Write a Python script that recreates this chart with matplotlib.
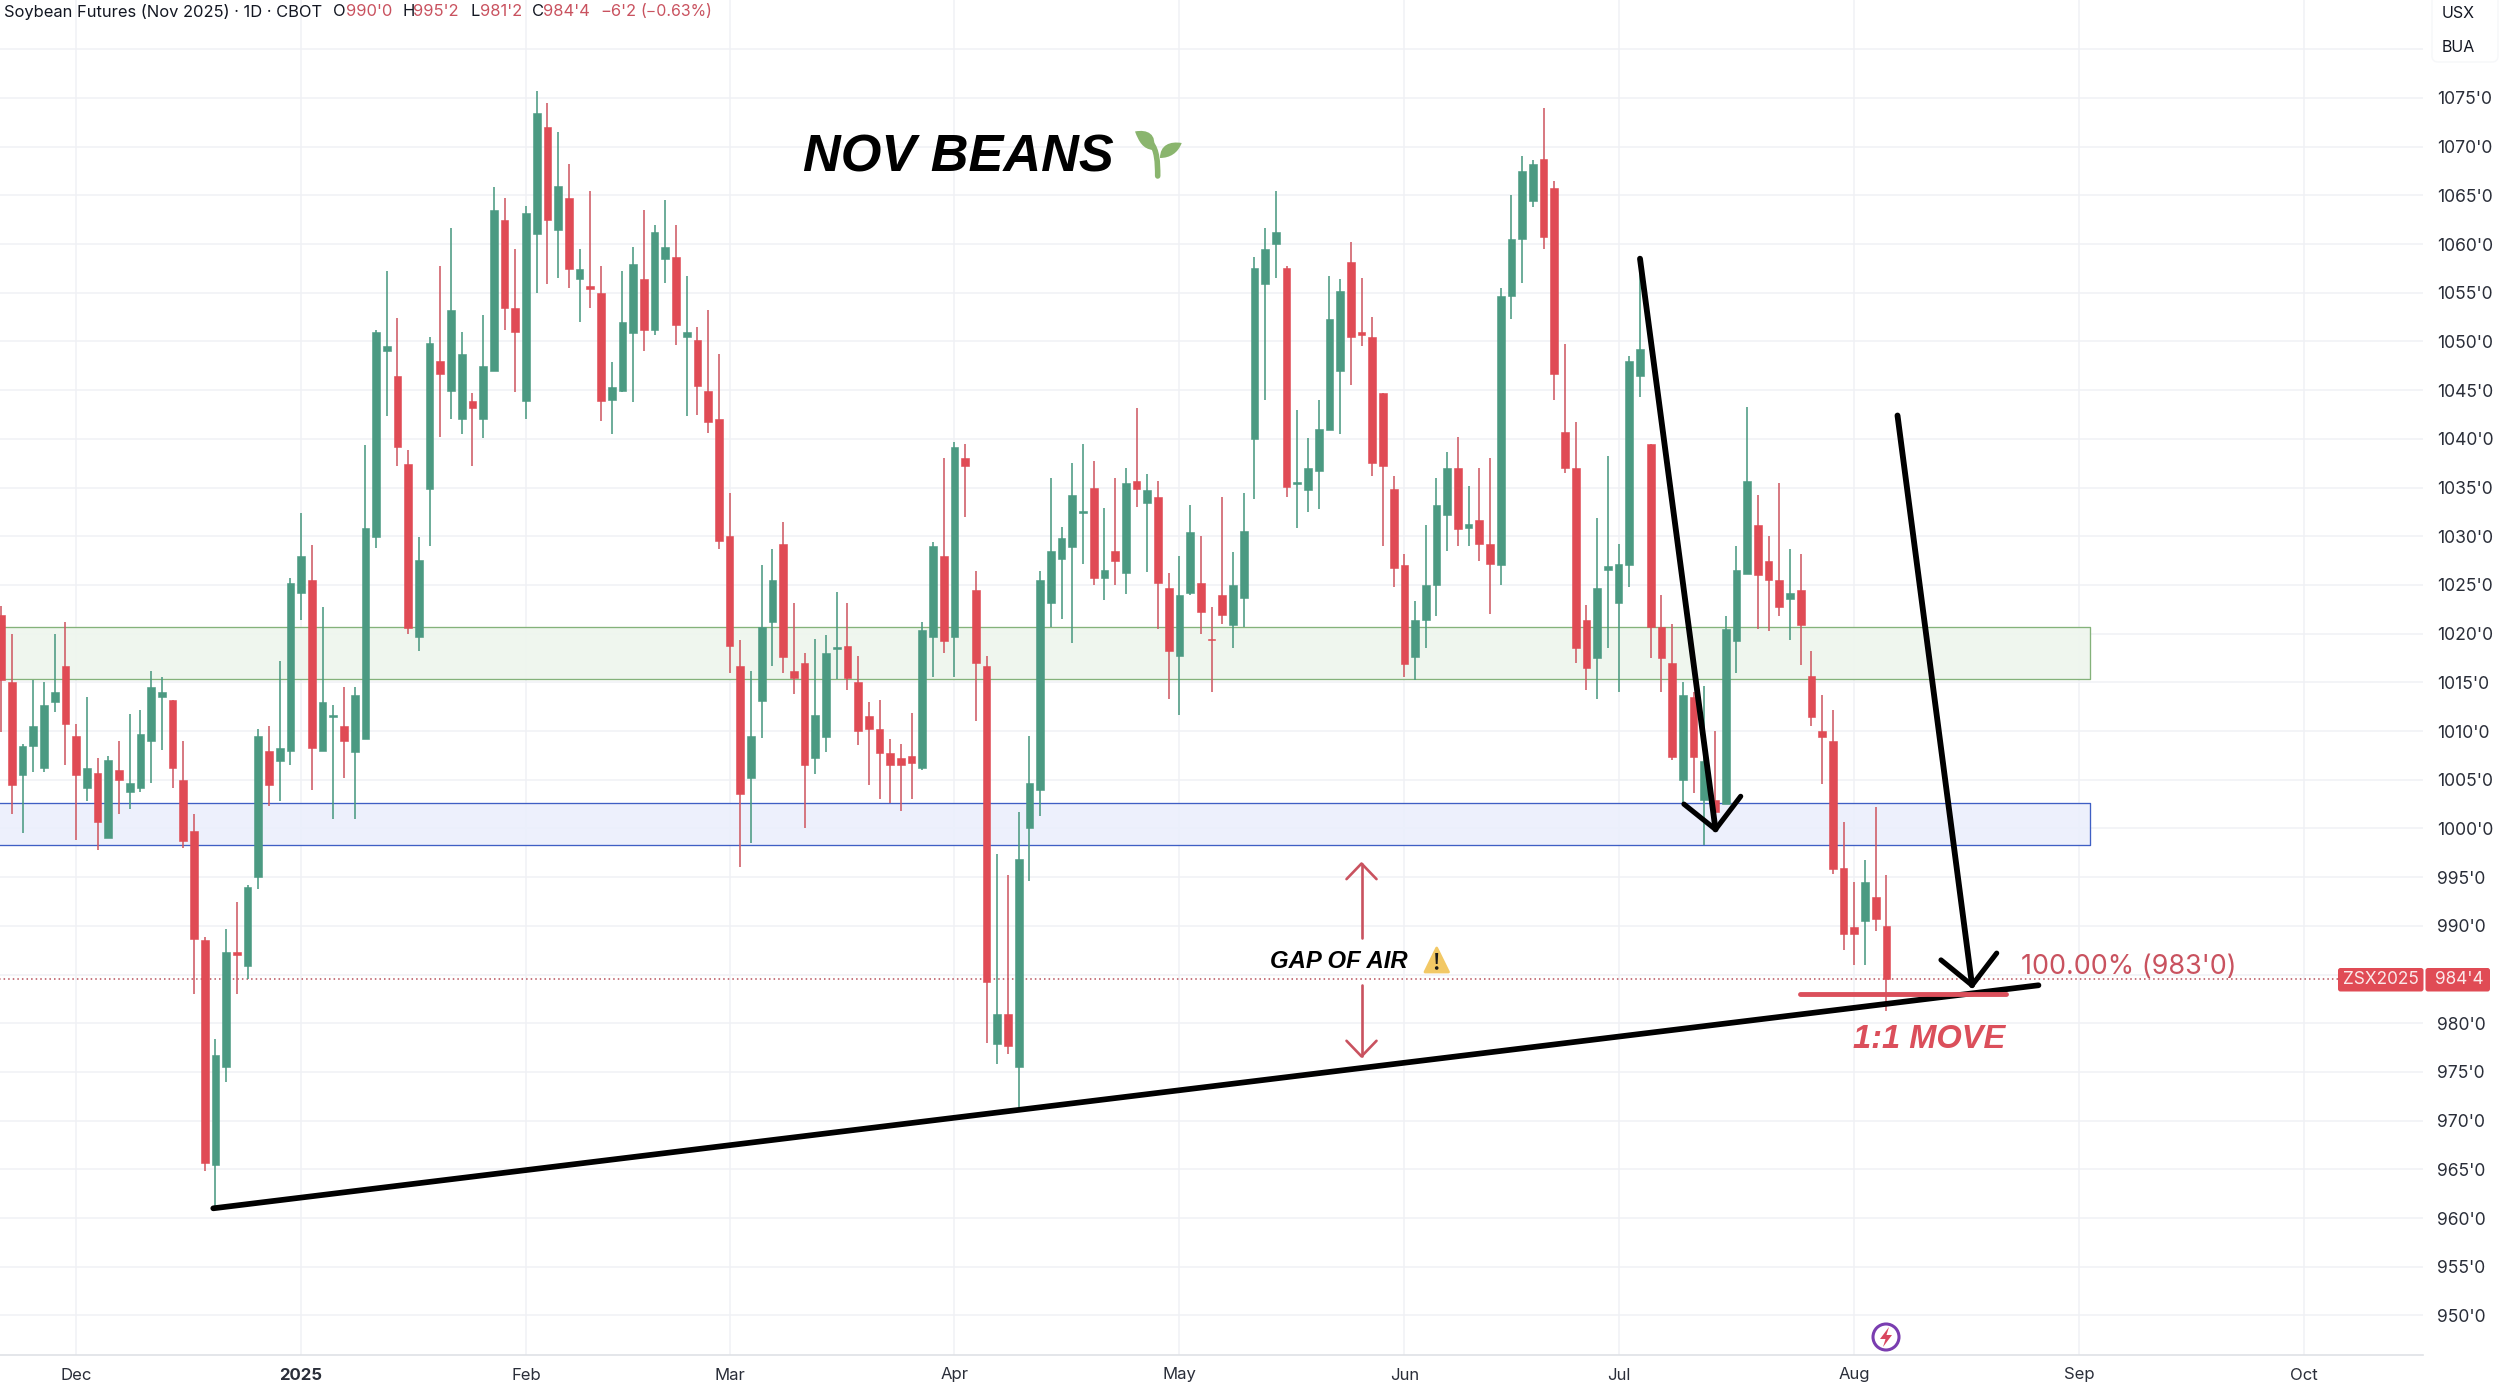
import matplotlib
matplotlib.use("Agg")
import matplotlib.pyplot as plt
from matplotlib.patches import PathPatch, Polygon, Circle, FancyBboxPatch
from matplotlib.path import Path
from matplotlib.transforms import Affine2D

W, H = 2500, 1384

opens = [1021.9,1015,1005.5,1008.5,1006.2,1013,1016.7,1009.5,1004.2,1005.7,
 999,1006,1003.7,1004.2,1009,1013.5,1013.2,1005,999.7,988.5,
 965.4,975.5,987.3,985.9,995,1008,1006.9,1008,1024.2,1025.5,
 1008,1011.4,1010.5,1007.8,1009.2,1029.9,1049,1046.5,1037.4,1019.7,
 1034.9,1048,1044.9,1042,1043.9,1042,1047,1062.5,1053.4,1043.9,
 1061,1072,1061.4,1064.7,1056.4,1055.7,1055,1044,1044.9,1050.9,
 1056.4,1051.2,1058.5,1058.7,1050.5,1050.2,1044.9,1042,1030,1016.7,
 1005.2,1013.1,1021.2,1029.2,1016.2,1017,1007.2,1009.4,1018.4,1018.7,
 1015,1011.5,1010.2,1007.7,1007.2,1007.4,1006.2,1019.7,1028,1019.7,
 1038,1024.5,1016.7,977.9,981,975.5,1000,1004,1023.2,1027.7,
 1028.9,1032.4,1035,1025.7,1028.5,1026.2,1035.7,1033.4,1034,1024.7,
 1017.7,1024.2,1025.2,1019.5,1024,1020.9,1023.7,1040,1055.9,1060,
 1057.5,1035.4,1034.7,1036.7,1040.9,1047,1058.2,1051,1050.5,1044.7,
 1034.9,1027,1017.6,1021.4,1025,1032.2,1037,1030.9,1031.7,1029.2,
 1027,1054.7,1060.5,1064.4,1068.7,1065.8,1040.7,1037,1021.4,1017.5,
 1026.5,1023.2,1027,1046.5,1039.5,1020.7,1017,1005,1013.5,1002.9,
 1002.9,1002.5,1019.2,1026.1,1031.2,1027.5,1025.5,1023.6,1024.5,1015.7,
 1010,1009,995.9,989.9,990.5,993,990]
closes = [1015.2,1004.5,1008.5,1010.5,1012.7,1014,1010.7,1005.5,1006.2,1000.7,
 1007,1005,1004.7,1009.7,1014.5,1014,1006.2,998.7,988.7,965.7,
 976.7,987.3,987,994,1009.5,1004.5,1008.3,1025.2,1028,1008.3,
 1013,1011.6,1009,1013.7,1030.9,1051,1049.5,1039.2,1020.6,1027.6,
 1049.8,1046.7,1053.2,1048.7,1043.2,1047.5,1063.5,1053.4,1051,1063.2,
 1073.5,1062.5,1066,1057.4,1057.4,1055.4,1043.9,1045.3,1052,1058,
 1051.2,1061.2,1059.7,1051.7,1051,1045.4,1041.7,1029.5,1018.7,1003.5,
 1009.5,1020.7,1025.5,1017.6,1015.4,1006.5,1011.7,1018,1018.6,1015.4,
 1010,1010.2,1007.7,1006.5,1006.5,1006.7,1020.4,1029,1019.2,1039.2,
 1037.2,1017,984.2,981,977.7,996.9,1004.7,1025.5,1028.5,1029.8,
 1034.2,1032.6,1025.7,1026.5,1027.5,1035.5,1034.9,1034.7,1025.2,1018.2,
 1024,1030.4,1022.2,1019.3,1021.9,1025,1030.5,1057.5,1059.5,1061.2,
 1035.1,1035.6,1037,1041,1052.3,1055.2,1050.5,1050.7,1037.5,1037.2,
 1026.7,1016.9,1021.4,1025,1033.2,1037,1030.7,1031.3,1029.2,1027.2,
 1054.7,1060.5,1067.5,1068.2,1060.7,1046.7,1037,1018.5,1016.5,1024.7,
 1026.9,1027.2,1048,1049.2,1020.7,1017.5,1007.3,1013.7,1007.3,1006.9,
 1001.7,1020.5,1026.5,1035.7,1026,1025.5,1022.7,1024.2,1020.9,1011.4,
 1009.4,995.8,989.2,989.2,994.5,990.7,984.5]
highs = [1022.8,1020,1008.7,1015.2,1015,1020,1021.2,1010.7,1013.5,1007.2,
 1007.4,1009,1011.8,1012.2,1016.2,1015.5,1013.2,1009,1001.5,988.9,
 978.4,989.7,992.5,994.2,1010.2,1010.5,1017.2,1025.7,1032.4,1029.1,
 1022.7,1012.7,1014.5,1014.5,1039.4,1051.2,1057.2,1052.4,1038.9,1029.9,
 1050.5,1057.7,1061.7,1051,1044.7,1052.7,1065.9,1064.7,1059.5,1063.9,
 1075.7,1074.5,1071.5,1068.2,1059.5,1065.5,1057.7,1047.9,1057.2,1059.7,
 1063.5,1062,1064.5,1062,1056.7,1051.5,1053.2,1048.7,1034.4,1019.3,
 1016.2,1027,1028.7,1031.5,1023.2,1018,1019.5,1019.9,1024.3,1023.2,
 1017.7,1013,1013.2,1009.2,1008.7,1011.9,1021.2,1029.4,1038,1039.7,
 1039.5,1026.4,1017.7,997.4,995.2,1001.7,1009.5,1026.4,1036,1031,
 1037.5,1039.5,1037.7,1032.9,1036,1037,1043.2,1036.4,1035.7,1026.2,
 1028,1033.2,1030,1022.7,1034,1028.4,1034.4,1058.7,1061.7,1065.4,
 1057.7,1043,1040.1,1044,1056.7,1056.4,1060.2,1056.5,1052.5,1044.7,
 1036.2,1028.2,1023.4,1031.2,1036,1038.7,1040.2,1035.2,1037,1038,
 1055.5,1065,1069,1068.6,1074,1066.5,1049.7,1041.7,1022.9,1031.9,
 1038.2,1029.2,1048.5,1058.4,1039.5,1024,1021,1015,1014,1014.6,
 1010,1021.8,1029,1043.3,1034.2,1030,1035.5,1028.7,1028.2,1018.2,
 1013.7,1012.2,1000.7,994.5,996.8,1002.2,995.2]
lows = [1009.9,1001.5,999.5,1005.8,1005.8,1012,1006.5,998.8,1002.8,997.8,
 999,1001.5,1002,1003.7,1004.7,1008.1,1004.2,998,983,964.8,
 961.1,974,983,984.5,993.8,1002.3,1002.8,1006.5,1021.4,1004,
 1008,1001,1005.2,1001,1009.2,1028.8,1042.3,1037.2,1020,1018.2,
 1029,1040.2,1042,1040.5,1037.2,1040.1,1047,1051.2,1044.8,1042,
 1055,1055.9,1056.5,1055.5,1052,1053.4,1041.8,1040.5,1044.8,1043.8,
 1049,1050.7,1056,1049.6,1042.3,1042.5,1040.6,1028.7,1016,996,
 998.5,1009.3,1016.7,1016,1013.8,1000,1005.6,1007.8,1015.3,1014.2,
 1008.6,1004.5,1003,1002.6,1001.8,1003,1006,1015.6,1018,1015.6,
 1032,1011,978,975.8,976.8,971.3,994.6,1001.3,1020.7,1021.5,
 1019,1027.2,1025,1023.5,1025,1024.1,1033,1026.3,1020.5,1013.3,
 1011.6,1024,1020,1014,1021,1018.5,1020.7,1033.8,1044,1056.5,
 1034,1030.8,1032.5,1032.8,1040.9,1040.5,1045.5,1049.5,1036.2,1029,
 1024.8,1015.5,1015.2,1018.5,1021.8,1028.5,1029,1029,1027.5,1022,
 1025,1052.3,1056,1063.8,1059.5,1044,1036.5,1017,1014.2,1013.3,
 1018.5,1014,1024.8,1044.3,1017.5,1014,1007,1002.6,1003.6,998.3,
 1001.7,1002.5,1016,1026.1,1020.5,1020.3,1021.8,1019.3,1016.8,1010.5,
 1004.6,995.3,987.5,986,986,989.5,981.3]

month_labels = ["Dec", "2025", "Feb", "Mar", "Apr", "May", "Jun", "Jul", "Aug", "Sep", "Oct"]
month_bars = [7, 28, 49, 68, 89, 110, 131, 151, 173, 194, 215]
price_ticks = list(range(950, 1085, 5))
last_price = 984.5
green_zone = (1015.35, 1020.7)
blue_zone = (998.3, 1002.6)
zone_end_bar = 195.0
fib_price = 983.0

GREEN = "#4B9A82"
RED = "#E04B55"
WICK_RED = "#CF5A64"
TXT_RED = "#C9525F"
MOVE_RED = "#DB4F5B"
INK = "#131722"
GRID = "#F0F1F5"

plt.rcParams["font.family"] = ["Inter", "Liberation Sans", "DejaVu Sans"]
fig = plt.figure(figsize=(W / 100, H / 100), dpi=100, facecolor="white")
ax = fig.add_axes([0, (H - 1355) / H, 2423 / W, 1355 / H])
ax.set_xlim(-0.11, 226.1)
ax.set_ylim(945.94, 1085.06)
for s in ("top", "left", "right"):
    ax.spines[s].set_visible(False)
ax.spines["bottom"].set_color("#DFE1E6")
ax.spines["bottom"].set_linewidth(1.2)
ax.set_axisbelow(True)
ax.yaxis.tick_right()
ax.set_yticks(price_ticks)
ax.set_yticklabels(["" if v in (985, 1080) else f"{v}'0" for v in price_ticks],
                   fontsize=12.6, color="#2A2E39")
ax.set_xticks(month_bars)
ax.set_xticklabels(month_labels, fontsize=12, color="#2A2E39")
ax.get_xticklabels()[1].set_fontweight("bold")
ax.tick_params(axis="y", length=0, pad=10)
ax.tick_params(axis="x", length=0, pad=9)
ax.grid(True, color=GRID, lw=1.1)

# zones
for (lo, hi), fc, ec in ((green_zone, "#EEF6ED", "#84B27A"), (blue_zone, "#EBEFFC", "#3F5FC4")):
    ax.fill_between([-1, zone_end_bar], lo, hi, facecolor=fc, edgecolor="none", alpha=0.9, zorder=1)
    ax.plot([-1, zone_end_bar, zone_end_bar, -1], [hi, hi, lo, lo], color=ec, lw=0.95, zorder=1.5)

ax.plot([-1, 218.2], [last_price, last_price], color="#B8505B", lw=1.1, ls=(0, (1, 2.0)), zorder=2)

# candles
bars = range(len(opens))
up = [c >= o for o, c in zip(opens, closes)]
ax.vlines(bars, lows, highs, colors=[GREEN if u else WICK_RED for u in up], lw=1.15, zorder=3)
ax.bar(bars, [abs(c - o) for o, c in zip(opens, closes)], bottom=[min(o, c) for o, c in zip(opens, closes)],
       width=0.72, color=[GREEN if u else RED for u in up], edgecolor=[GREEN if u else RED for u in up],
       linewidth=0.4, zorder=3.2)

# drawings
LINE = dict(color="black", solid_capstyle="round", solid_joinstyle="round", zorder=5)
ax.plot([19.8, 190.2], [961.0, 983.9], lw=4.1, **LINE)
ax.plot([153.0, 160.05], [1058.5, 999.9], lw=4.2, **LINE)
ax.plot([157.1, 160.05, 162.4], [1002.5, 999.9, 1003.3], lw=3.7, **LINE)
ax.plot([177.04, 184.0], [1042.4, 983.9], lw=4.2, **LINE)
ax.plot([181.1, 184.0, 186.3], [986.5, 983.9, 987.2], lw=3.7, **LINE)
ax.plot([167.9, 187.2], [fib_price, fib_price], lw=3.5, color=MOVE_RED, solid_capstyle="round", zorder=5.5)

ARW = dict(color=TXT_RED, lw=1.9, solid_capstyle="round", solid_joinstyle="round", zorder=5)
ax.plot([127, 127], [996.4, 988.8], **ARW)
ax.plot([125.6, 127, 128.4], [994.8, 996.4, 994.8], **ARW)
ax.plot([127, 127], [983.9, 976.6], **ARW)
ax.plot([125.6, 127, 128.4], [978.2, 976.6, 978.2], **ARW)

# pixel-space helpers
T = Affine2D().scale(1, -1).translate(0, H)


def txt(x, y, s, **kw):
    kw.setdefault("va", "center")
    kw.setdefault("ha", "left")
    return fig.text(x / W, 1 - y / H, s, **kw)


# header
hdr = 11.9
txt(4, 12, "Soybean Futures (Nov 2025) · 1D · CBOT", fontsize=hdr, color=INK)
for x, s, c in ((333, "O", INK), (346, "990'0", TXT_RED), (402, "H", INK), (413, "995'2", TXT_RED),
                (470, "L", INK), (480, "981'2", TXT_RED), (532, "C", INK), (543, "984'4", TXT_RED),
                (600, "−6'2", TXT_RED), (640, "(−0.63%)", TXT_RED)):
    txt(x, 12, s, fontsize=hdr if len(s) < 8 else hdr - 0.5, color=c)

# currency box
fig.add_artist(FancyBboxPatch((2432, -6), 66, 68, boxstyle="round,pad=0,rounding_size=6", fc="white",
                              ec="#F6F7F9", lw=1, transform=T, zorder=6))
txt(2442, 13, "USX", fontsize=11.5, color=INK, zorder=7)
txt(2442, 48, "BUA", fontsize=11.5, color=INK, zorder=7)

# titles
BI = dict(family="Liberation Sans", fontweight="bold", fontstyle="italic")
txt(803, 158, "NOV BEANS", fontsize=37.6, color="black", **BI)
txt(1270, 961, "GAP OF AIR", fontsize=17.2, color="black", **BI)
txt(1853, 1040, "1:1 MOVE", fontsize=23.5, color=MOVE_RED, **BI)
txt(2021, 967, "100.00% (983'0)", fontsize=19.4, color=TXT_RED)

# sprout
SPROUT = "#8AB56E"
stem = Path([(1157.7, 176), (1157.7, 162), (1157, 150), (1151, 143)],
            [Path.MOVETO, Path.CURVE4, Path.CURVE4, Path.CURVE4])
fig.add_artist(PathPatch(stem, fc="none", ec=SPROUT, lw=4, capstyle="round", transform=T, zorder=6))
leaf1 = Path([(1135, 131.5), (1147, 129), (1158, 134), (1153, 150), (1143, 149), (1139, 142), (1135, 131.5)],
             [Path.MOVETO, Path.CURVE4, Path.CURVE4, Path.CURVE4, Path.CURVE4, Path.CURVE4, Path.CURVE4])
leaf2 = Path([(1181.7, 143), (1170, 141), (1160, 145), (1160, 158), (1170, 158), (1178, 153), (1181.7, 143)],
             [Path.MOVETO, Path.CURVE4, Path.CURVE4, Path.CURVE4, Path.CURVE4, Path.CURVE4, Path.CURVE4])
for lf in (leaf1, leaf2):
    fig.add_artist(PathPatch(lf, fc=SPROUT, ec="none", transform=T, zorder=6))

# warning sign
fig.add_artist(Polygon([(1436.7, 948), (1425, 972), (1448.5, 972)], closed=True, fc="#F2C865", ec="#F2C865",
                       lw=2, joinstyle="round", transform=T, zorder=6))
fig.add_artist(Polygon([(1435.2, 953), (1438.2, 953), (1437.6, 964), (1435.8, 964)], closed=True, fc="#1A1A1A",
                       ec="none", transform=T, zorder=7))
fig.add_artist(Circle((1436.7, 968), 1.8, fc="#1A1A1A", ec="none", transform=T, zorder=7))

# last price labels
for x0, x1 in ((2338, 2423.5), (2425.5, 2490)):
    fig.add_artist(FancyBboxPatch((x0, 968), x1 - x0, 23.5, boxstyle="round,pad=0,rounding_size=2.5", fc=RED,
                                  ec="none", transform=T, zorder=6))
txt(2381, 980, "ZSX2025", fontsize=12.4, color="#FBE9EA", ha="center", zorder=7)
txt(2459, 980, "984'4", fontsize=12.4, color="#FBE9EA", ha="center", zorder=7)

# flash logo
fig.add_artist(Circle((1886, 1337), 13, fc="none", ec="#7A3DB0", lw=2.2, transform=T, zorder=6))
fig.add_artist(Polygon([(1889, 1327), (1880, 1339), (1885.5, 1339), (1883, 1347), (1892, 1335), (1886.5, 1335)],
                       closed=True, fc="#D9465F", ec="none", transform=T, zorder=7))

fig.savefig("out.png", dpi=100, facecolor="white")
